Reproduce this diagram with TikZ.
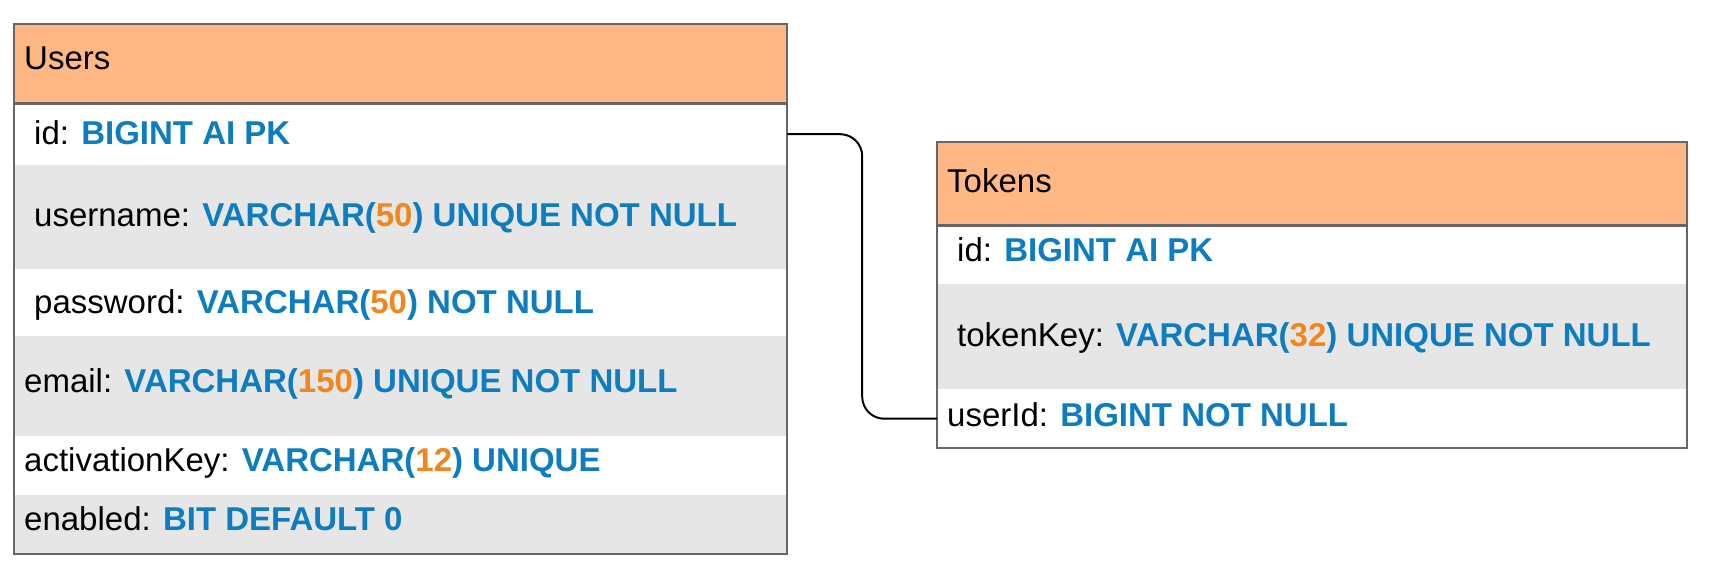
\documentclass[tikz,border=0pt]{standalone}
\usepackage{fontspec}
\setmainfont{Liberation Sans}
\usetikzlibrary{calc}
\definecolor{hdrorange}{HTML}{FFB883}
\definecolor{rowgray}{HTML}{E6E6E6}
\definecolor{framegray}{HTML}{666666}
\definecolor{sqlblue}{HTML}{0E7DBF}
\definecolor{sqlorange}{HTML}{F0871E}
\newcommand{\sqlkw}[1]{\textcolor{sqlblue}{\bfseries #1}}
\newcommand{\sqlnum}[1]{\textcolor{sqlorange}{#1}}
\tikzset{
  row/.style={anchor=north west, inner sep=0pt, minimum width=#1},
  field/.style={anchor=base west, inner sep=0pt, font=\fontsize{33}{39}\selectfont},
  frame/.style={draw=framegray, line width=2pt},
}

\begin{document}
\begin{tikzpicture}[x=1pt,y=-1pt]
	\useasboundingbox (0,0) rectangle (1721,588);
	
	% Users table
	\node[row=773, minimum height=79, fill=hdrorange] (uhead) at (14,24) {};
	\node[row=773, minimum height=62, fill=white] (uid) at (14,103) {};
	\node[row=773, minimum height=104, fill=rowgray] (uname) at (14,165) {};
	\node[row=773, minimum height=67, fill=white] (upass) at (14,269) {};
	\node[row=773, minimum height=100, fill=rowgray] (umail) at (14,336) {};
	\node[row=773, minimum height=59, fill=white] (uact) at (14,436) {};
	\node[row=773, minimum height=59, fill=rowgray] (uen) at (14,495) {};
	\draw[frame] (uhead.north west) rectangle (uen.south east);
	\draw[frame, line width=3pt] (uhead.south west) -- (uhead.south east);
	
	\node[field] (tusers) at (24,70) {Users};
	\node[field] (tuid) at (34,144.5) {id: \sqlkw{BIGINT AI PK}};
	\node[field] (tuname) at (34,226.7) {username: \sqlkw{VARCHAR(\sqlnum{50}) UNIQUE NOT NULL}};
	\node[field] (tupass) at (34,313.5) {password: \sqlkw{VARCHAR(\sqlnum{50}) NOT NULL}};
	\node[field] (tumail) at (24,392.5) {email: \sqlkw{VARCHAR(\sqlnum{150}) UNIQUE NOT NULL}};
	\node[field] (tuact) at (24,471.5) {activationKey: \sqlkw{VARCHAR(\sqlnum{12}) UNIQUE}};
	\node[field] (tuen) at (24,530.5) {enabled: \sqlkw{BIT DEFAULT 0}};
	
	% Tokens table
	\node[row=750, minimum height=83, fill=hdrorange] (thead) at (937,142) {};
	\node[row=750, minimum height=59, fill=white] (tid) at (937,225) {};
	\node[row=750, minimum height=105, fill=rowgray] (tkey) at (937,284) {};
	\node[row=750, minimum height=59, fill=white] (tuser) at (937,389) {};
	\draw[frame] (thead.north west) rectangle (tuser.south east);
	\draw[frame, line width=3pt] (thead.south west) -- (thead.south east);
	
	\node[field] (ttokens) at (947,192.5) {Tokens};
	\node[field] (ttid) at (957,261.5) {id: \sqlkw{BIGINT AI PK}};
	\node[field] (ttkey) at (957,346.5) {tokenKey: \sqlkw{VARCHAR(\sqlnum{32}) UNIQUE NOT NULL}};
	\node[field] (ttuser) at (947,426.5) {userId: \sqlkw{BIGINT NOT NULL}};
	
	% relation
	\draw[line width=2pt, rounded corners=22pt] (uid.east) -| ($(uid.east)!0.5!(tuser.west)$) |- (tuser.west);
\end{tikzpicture}
\end{document}
